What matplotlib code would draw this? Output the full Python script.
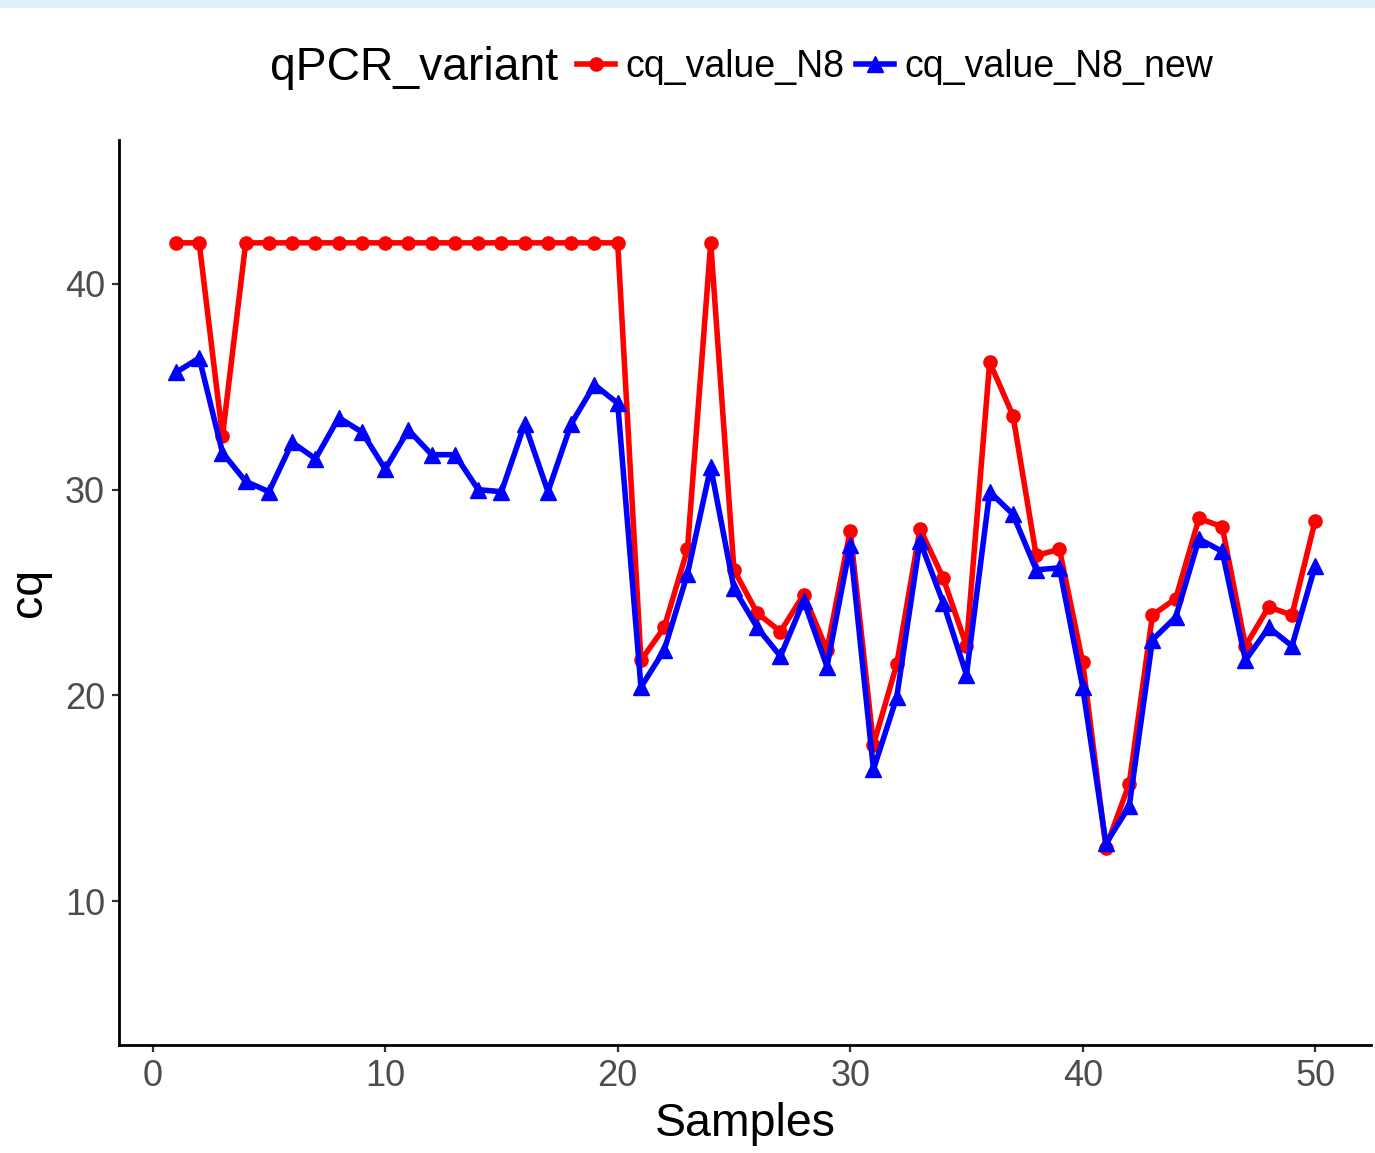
import matplotlib
matplotlib.use("Agg")
import matplotlib.pyplot as plt
from matplotlib.patches import Rectangle

samples = list(range(1, 51))
cq_value_N8 = [42, 42, 32.6, 42, 42, 42, 42, 42, 42, 42,
               42, 42, 42, 42, 42, 42, 42, 42, 42, 42,
               21.7, 23.3, 27.1, 42, 26.1, 24.0, 23.1, 24.9, 22.2, 28.0,
               17.6, 21.5, 28.1, 25.7, 22.4, 36.2, 33.6, 26.8, 27.1, 21.6,
               12.6, 15.7, 23.9, 24.7, 28.6, 28.2, 22.4, 24.3, 23.9, 28.5]
cq_value_N8_new = [35.7, 36.4, 31.8, 30.4, 29.9, 32.3, 31.5, 33.5, 32.8, 31.0,
                   32.9, 31.7, 31.7, 30.0, 29.9, 33.2, 29.9, 33.2, 35.1, 34.2,
                   20.4, 22.2, 25.9, 31.1, 25.2, 23.3, 21.9, 24.6, 21.4, 27.3,
                   16.4, 19.9, 27.5, 24.5, 21.0, 29.9, 28.8, 26.1, 26.2, 20.4,
                   12.8, 14.6, 22.7, 23.8, 27.6, 27.0, 21.7, 23.3, 22.4, 26.3]
series_names = ["cq_value_N8", "cq_value_N8_new"]
legend_title = "qPCR_variant"
x_ticks = [0, 10, 20, 30, 40, 50]
y_ticks = [10, 20, 30, 40]

plt.rcParams['font.family'] = ['Liberation Sans', 'DejaVu Sans']

W, H = 1375, 1153
fig = plt.figure(figsize=(W / 100, H / 100), dpi=100)
fig.patches.append(Rectangle((0, 1 - 8 / H), 1, 8 / H, transform=fig.transFigure,
                             facecolor='#DFF1F9', edgecolor='none', zorder=0))

ax = fig.add_axes([119 / W, 1 - 1045 / H, (1371 - 119) / W, (1045 - 140) / H])
ax.plot(samples, cq_value_N8, color='#FF0000', lw=4.0, marker='o', ms=9.5,
        label=series_names[0], solid_joinstyle='round')
ax.plot(samples, cq_value_N8_new, color='#0000FF', lw=4.0, marker='^', ms=12,
        label=series_names[1], solid_joinstyle='round')

ax.set_xlim(-1.45, 52.4)
ax.set_ylim(3, 47)
ax.set_xticks(x_ticks)
ax.set_yticks(y_ticks)
for s in ['top', 'right']:
    ax.spines[s].set_visible(False)
for s in ['left', 'bottom']:
    ax.spines[s].set_linewidth(2.0)
    ax.spines[s].set_color('black')
ax.tick_params(axis='both', length=5, width=1.6, color='#333333',
               labelcolor='#4D4D4D', labelsize=26, pad=5)
ax.set_xlabel("Samples", fontsize=33.5, color='black', labelpad=6)
ax.set_ylabel("cq", fontsize=33.5, color='black', labelpad=10)

fig.text(270 / W, 1 - 68 / H, legend_title, fontsize=33.3, ha='left', va='center')
leg = fig.legend(loc='center left', bbox_to_anchor=(577 / W, 1 - 67 / H), ncol=2,
                 frameon=False, fontsize=27, handlelength=1.0, handletextpad=0.3,
                 columnspacing=0.3, borderpad=0, borderaxespad=0)

fig.savefig("out.png", dpi=100)
